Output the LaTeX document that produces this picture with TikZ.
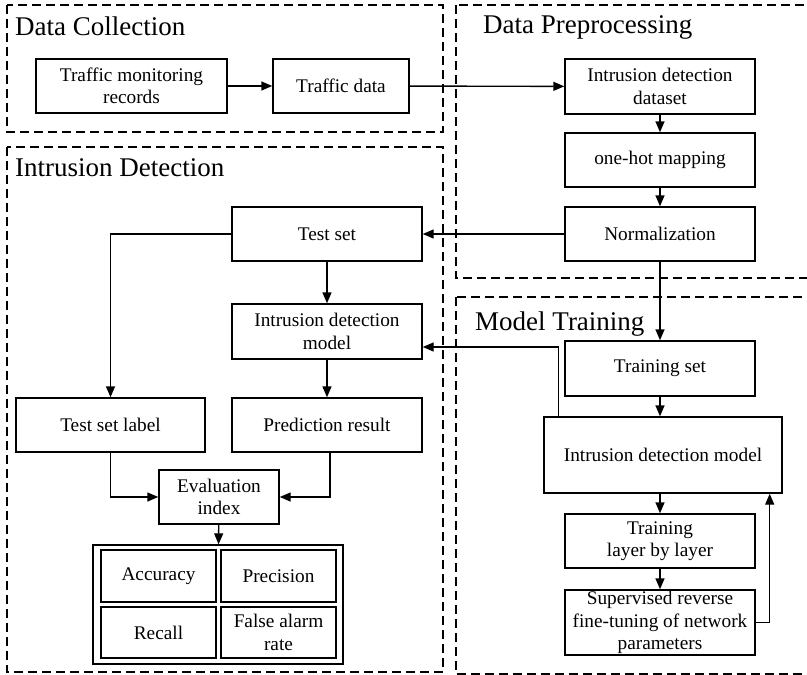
\documentclass[tikz,border=0pt]{standalone}
\usepackage{fontspec}
\setmainfont{Liberation Serif}
\usetikzlibrary{arrows.meta}

\begin{document}
\begin{tikzpicture}[x=1pt, y=-1pt,
		block/.style = {draw, line width=1.4pt, align=center, inner sep=0pt, font=\fontsize{19.3}{22.5}\selectfont},
		frame/.style = {line width=1.4pt, dash pattern=on 9pt off 5pt},
		title/.style = {anchor=base west, inner sep=0pt, font=\fontsize{27}{30}\selectfont},
		arr/.style = {line width=1.4pt, -{Triangle[length=11pt,width=9pt]}}]
		\useasboundingbox (0,0) rectangle (807,675);
	
		\draw[frame] (7,5) rectangle (443,132);
		\draw[frame] (456,5) rectangle (840,278);
		\draw[frame] (7,147) rectangle (443,672);
		\draw[frame] (456,297) rectangle (840,674);
		\node[title] (tcollect) at (15,35) {Data Collection};
		\node[title] (tpreproc) at (483,33) {Data Preprocessing};
		\node[title] (tdetect) at (15,176) {Intrusion Detection};
		\node[title] (ttrain) at (475,330) {Model Training};
	
		\node[block, minimum width=191, minimum height=54] (records) at (131.5,86) {Traffic monitoring\\records};
		\node[block, minimum width=136, minimum height=54] (trafficdata) at (341,86) {Traffic data};
	
		\node[block, minimum width=190, minimum height=55] (dataset) at (660,86.5) {Intrusion detection\\dataset};
		\node[block, minimum width=190, minimum height=54] (onehot) at (660,160) {one-hot mapping};
		\node[block, minimum width=190, minimum height=54] (normal) at (660,234) {Normalization};
	
		\node[block, minimum width=190, minimum height=54] (testset) at (327,234) {Test set};
		\node[block, minimum width=190, minimum height=55] (idmodel) at (327,331.5) {Intrusion detection\\model};
		\node[block, minimum width=189, minimum height=54] (testlabel) at (110.5,425) {Test set label};
		\node[block, minimum width=190, minimum height=54] (predict) at (327,425) {Prediction result};
		\node[block, minimum width=120, minimum height=54] (evalindex) at (219,497) {Evaluation\\index};
		\node[block, minimum width=250, minimum height=119] (metrics) at (218,604.5) {};
		\node[block, minimum width=115, minimum height=52] (accuracy) at (158.5,576) {Accuracy};
		\node[block, minimum width=115, minimum height=52] (precision) at (278.5,576) {Precision};
		\node[block, minimum width=115, minimum height=51] (recall) at (158.5,632.5) {Recall};
		\node[block, minimum width=115, minimum height=51] (falsealarm) at (278.5,632.5) {False alarm\\rate};
	
		\node[block, minimum width=190, minimum height=55] (trainset) at (660,368.5) {Training set};
		\node[block, minimum width=238, minimum height=76] (trainmodel) at (663,455) {Intrusion detection model};
		\node[block, minimum width=190, minimum height=54] (layerwise) at (660,541) {Training\\layer by layer};
		\node[block, minimum width=190, minimum height=65] (finetune) at (660,622.5) {Supervised reverse\\fine-tuning of network\\parameters};
	
		\draw[arr] (records) -- (trafficdata);
		\draw[arr] (trafficdata) -- (dataset);
		\draw[arr] (dataset) -- (onehot);
		\draw[arr] (onehot) -- (normal);
		\draw[arr] (normal) -- (testset);
		\draw[arr] (normal) -- (trainset);
		\draw[arr] (testset) -- (idmodel);
		\draw[arr] (testset.west) -| (testlabel.north);
		\draw[arr] (idmodel) -- (predict);
		\draw[arr] (testlabel.south) |- (evalindex.west);
		\draw[arr] ([xshift=3pt]predict.south) |- (evalindex.east);
		\draw[arr] (evalindex) -- (metrics);
		\draw[arr] (trainset.south) -- (trainset.south |- trainmodel.north);
		\draw[arr] ([xshift=15pt]trainmodel.north west) |- ([yshift=-15.5pt]idmodel.east);
		\draw[arr] (layerwise.north |- trainmodel.south) -- (layerwise.north);
		\draw[arr] (layerwise) -- (finetune);
		\draw[arr] (finetune.east) -| ([xshift=-13pt]trainmodel.south east);
	\end{tikzpicture}
\end{document}
